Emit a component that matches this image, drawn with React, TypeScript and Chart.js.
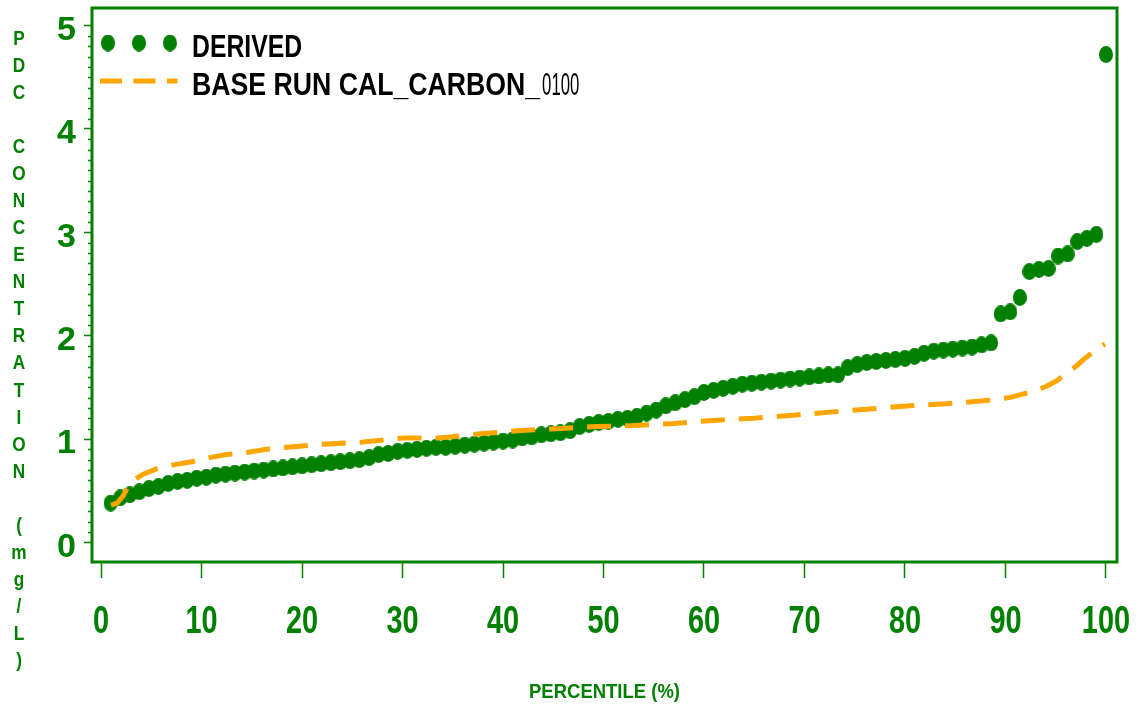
import React, { useEffect, useRef } from "react";
import { Chart, registerables } from "chart.js";

Chart.register(...registerables);

const WIDTH = 1140;
const HEIGHT = 704;
const GREEN = "#008000";
const ORANGE = "#FFA500";
const SANS = "'Liberation Sans', Arial, Helvetica, sans-serif";

// Derived PDC concentrations, ranked, with their percentiles
const derivedPercentile = [
  0.95, 1.9, 2.86, 3.81, 4.76, 5.71, 6.67, 7.62, 8.57, 9.52,
  10.48, 11.43, 12.38, 13.33, 14.29, 15.24, 16.19, 17.14, 18.1, 19.05,
  20.0, 20.95, 21.9, 22.86, 23.81, 24.76, 25.71, 26.67, 27.62, 28.57,
  29.52, 30.48, 31.43, 32.38, 33.33, 34.29, 35.24, 36.19, 37.14, 38.1,
  39.05, 40.0, 40.95, 41.9, 42.86, 43.81, 44.76, 45.71, 46.67, 47.62,
  48.57, 49.52, 50.48, 51.43, 52.38, 53.33, 54.29, 55.24, 56.19, 57.14,
  58.1, 59.05, 60.0, 60.95, 61.9, 62.86, 63.81, 64.76, 65.71, 66.67,
  67.62, 68.57, 69.52, 70.48, 71.43, 72.38, 73.33, 74.29, 75.24, 76.19,
  77.14, 78.1, 79.05, 80.0, 80.95, 81.9, 82.86, 83.81, 84.76, 85.71,
  86.67, 87.62, 88.57, 89.52, 90.48, 91.43, 92.38, 93.33, 94.29, 95.24,
  96.19, 97.14, 98.1, 99.05, 100.0,
];
const derivedConcentration = [
  0.38, 0.43, 0.46, 0.49, 0.52, 0.54, 0.57, 0.59, 0.6, 0.62,
  0.63, 0.65, 0.66, 0.67, 0.68, 0.69, 0.7, 0.71, 0.72, 0.73,
  0.74, 0.75, 0.76, 0.77, 0.78, 0.79, 0.8, 0.82, 0.85, 0.86,
  0.88, 0.89, 0.9, 0.91, 0.92, 0.92, 0.93, 0.94, 0.95, 0.96,
  0.97, 0.98, 0.99, 1.01, 1.02, 1.04, 1.05, 1.06, 1.08, 1.12,
  1.14, 1.16, 1.17, 1.19, 1.2, 1.22, 1.25, 1.28, 1.32, 1.35,
  1.38, 1.41, 1.45, 1.47, 1.49, 1.51, 1.53, 1.54, 1.55, 1.56,
  1.57, 1.58, 1.59, 1.6, 1.61, 1.62, 1.62, 1.69, 1.72, 1.74,
  1.75, 1.76, 1.77, 1.78, 1.8, 1.83, 1.85, 1.86, 1.87, 1.88,
  1.89, 1.91, 1.93, 2.21, 2.23, 2.37, 2.62, 2.64, 2.65, 2.77,
  2.79, 2.91, 2.94, 2.98, 4.72,
];

// Base run CAL_CARBON_0100 curve
const baseRunPercentile = [
  1.0, 1.6, 2.2, 2.9, 4.2, 5.5, 7.2, 9.0, 10.8, 12.5,
  14.5, 16.5, 18.5, 22.1, 26.1, 30.1, 33.7, 37.7, 41.4, 45.3,
  49.3, 53.0, 57.0, 60.9, 64.9, 68.9, 72.5, 76.5, 80.2, 84.1,
  87.8, 90.4, 92.7, 94.1, 95.2, 96.1, 97.0, 97.9, 98.7, 99.9,
];
const baseRunConcentration = [
  0.36, 0.38, 0.45, 0.58, 0.66, 0.71, 0.75, 0.78, 0.82, 0.85,
  0.87, 0.9, 0.92, 0.95, 0.97, 1.01, 1.01, 1.05, 1.08, 1.1,
  1.12, 1.13, 1.15, 1.18, 1.2, 1.23, 1.26, 1.29, 1.32, 1.34,
  1.37, 1.4, 1.46, 1.51, 1.57, 1.64, 1.7, 1.78, 1.84, 1.92,
];

const xTickValues = [0, 10, 20, 30, 40, 50, 60, 70, 80, 90, 100];
const yTickValues = [0, 1, 2, 3, 4, 5];
const xRange = [-0.9, 101.1];
const yRange = [-0.19, 5.17];

const yTitleLetters = [
  "P", "D", "C", "",
  "C", "O", "N", "C", "E", "N", "T", "R", "A", "T", "I", "O", "N", "",
  "(", "m", "g", "/", "L", ")",
];
const xTitle = "PERCENTILE (%)";
const derivedLabel = "DERIVED";
const baseRunLabel = "BASE RUN CAL_CARBON_0100";

function makeMarker(color: string, w: number, h: number) {
  const c = document.createElement("canvas");
  c.width = w;
  c.height = h;
  const g = c.getContext("2d")!;
  g.fillStyle = color;
  g.beginPath();
  g.ellipse(w / 2, h / 2, w / 2, h / 2, 0, 0, Math.PI * 2);
  g.fill();
  return c;
}

// Text squeezed horizontally to give the condensed lettering
function drawCondensed(
  ctx: CanvasRenderingContext2D,
  text: string,
  x: number,
  y: number,
  font: string,
  sx: number,
  align: "left" | "center" | "right",
) {
  ctx.save();
  ctx.font = font;
  ctx.textAlign = "left";
  ctx.textBaseline = "alphabetic";
  const w = ctx.measureText(text).width * sx;
  const left = align === "center" ? x - w / 2 : align === "right" ? x - w : x;
  ctx.translate(left, y);
  ctx.scale(sx, 1);
  ctx.fillText(text, 0, 0);
  ctx.restore();
  return w;
}

// Frame, minor ticks, condensed labels, stacked y-axis title and the legend
const decorations = {
  id: "decorations",
  afterDraw(chart: any) {
    const { ctx, chartArea: a, scales } = chart;
    const xs = scales.x;
    const ys = scales.y;
    ctx.save();

    // minor ticks on the concentration axis
    ctx.strokeStyle = GREEN;
    ctx.lineWidth = 1.5;
    for (let k = 1; k < 50; k++) {
      if (k % 10 === 0) continue;
      const py = Math.round(ys.getPixelForValue(k / 10)) + 0.5;
      ctx.beginPath();
      ctx.moveTo(a.left - 4, py);
      ctx.lineTo(a.left, py);
      ctx.stroke();
    }

    // plot frame
    ctx.lineWidth = 3;
    ctx.strokeRect(a.left, a.top, a.right - a.left, a.bottom - a.top);

    // percentile tick labels
    ctx.fillStyle = GREEN;
    xs.ticks.forEach((t: any) => {
      const px = xs.getPixelForValue(t.value);
      drawCondensed(ctx, String(t.label), px, 633, `bold 39px ${SANS}`, 0.74, "center");
    });

    // axis titles
    drawCondensed(ctx, xTitle, (a.left + a.right) / 2, 698, `bold 21px ${SANS}`, 0.88, "center");
    yTitleLetters.forEach((ch, i) => {
      if (!ch) return;
      drawCondensed(ctx, ch, 19, 45 + i * 27.04, `bold 21px ${SANS}`, 0.82, "center");
    });

    // legend
    const derived = chart.data.datasets[1];
    const base = chart.data.datasets[0];
    const marker = derived.pointStyle as HTMLCanvasElement;
    [108, 139, 170].forEach((cx) => {
      ctx.drawImage(marker, cx - marker.width / 2, 43 - marker.height / 2);
    });
    ctx.strokeStyle = base.borderColor;
    ctx.lineWidth = base.borderWidth;
    ctx.setLineDash([22, 11.5]);
    ctx.beginPath();
    ctx.moveTo(100, 81);
    ctx.lineTo(177.5, 81);
    ctx.stroke();
    ctx.setLineDash([]);

    ctx.fillStyle = "#000";
    drawCondensed(ctx, derivedLabel, 192, 57, `bold 31px ${SANS}`, 0.8, "left");
    const split = baseRunLabel.lastIndexOf("_") + 1;
    const head = baseRunLabel.slice(0, split);
    const tail = baseRunLabel.slice(split);
    const w = drawCondensed(ctx, head, 192, 95, `bold 31px ${SANS}`, 0.86, "left");
    drawCondensed(ctx, tail, 192 + w + 2, 95, `31px ${SANS}`, 0.54, "left");

    ctx.restore();
  },
};

export default function App() {
  const ref = useRef<HTMLCanvasElement | null>(null);

  useEffect(() => {
    if (!ref.current) return;
    const marker = makeMarker(GREEN, 14, 17);
    const chart = new Chart(ref.current, {
      type: "line",
      data: {
        datasets: [
          {
            label: baseRunLabel,
            data: baseRunPercentile.map((x, i) => ({ x, y: baseRunConcentration[i] })),
            borderColor: ORANGE,
            backgroundColor: ORANGE,
            borderWidth: 5,
            borderDash: [24, 14],
            borderCapStyle: "butt",
            pointRadius: 0,
            tension: 0,
            fill: false,
            order: 0,
            clip: false,
          },
          {
            label: derivedLabel,
            data: derivedPercentile.map((x, i) => ({ x, y: derivedConcentration[i] })),
            showLine: false,
            pointStyle: marker as any,
            pointRadius: 7,
            backgroundColor: GREEN,
            borderColor: GREEN,
            order: 1,
            clip: false,
          },
        ],
      },
      options: {
        animation: false,
        responsive: false,
        devicePixelRatio: 1,
        layout: { padding: { left: 0, right: 23, top: 8, bottom: 0 } },
        plugins: {
          legend: { display: false },
          tooltip: { enabled: false },
        },
        scales: {
          x: {
            type: "linear",
            min: xRange[0],
            max: xRange[1],
            border: { display: false },
            grid: {
              drawOnChartArea: false,
              drawTicks: true,
              tickLength: 16,
              tickColor: GREEN,
              tickWidth: 1.5,
            },
            ticks: { display: false, autoSkip: false, maxRotation: 0 },
            title: { display: false },
            afterBuildTicks: (scale: any) => {
              scale.ticks = xTickValues.map((value) => ({ value }));
            },
            afterFit: (scale: any) => {
              scale.height = 142;
              scale.paddingLeft = 0;
              scale.paddingRight = 0;
            },
          },
          y: {
            type: "linear",
            min: yRange[0],
            max: yRange[1],
            border: { display: false },
            grid: {
              drawOnChartArea: false,
              drawTicks: true,
              tickLength: 8,
              tickColor: GREEN,
              tickWidth: 1.5,
            },
            ticks: {
              color: GREEN,
              font: { family: SANS, size: 34, weight: "bold", lineHeight: 1 },
              padding: 8,
              labelOffset: 5,
            },
            afterBuildTicks: (scale: any) => {
              scale.ticks = yTickValues.map((value) => ({ value }));
            },
            afterFit: (scale: any) => {
              scale.width = 92;
              scale.paddingTop = 0;
              scale.paddingBottom = 0;
            },
          },
        },
      },
      plugins: [decorations],
    });
    return () => chart.destroy();
  }, []);

  return (
    <canvas
      ref={ref}
      width={WIDTH}
      height={HEIGHT}
      style={{ position: "fixed", left: 0, top: 0, background: "#fff" }}
    />
  );
}
